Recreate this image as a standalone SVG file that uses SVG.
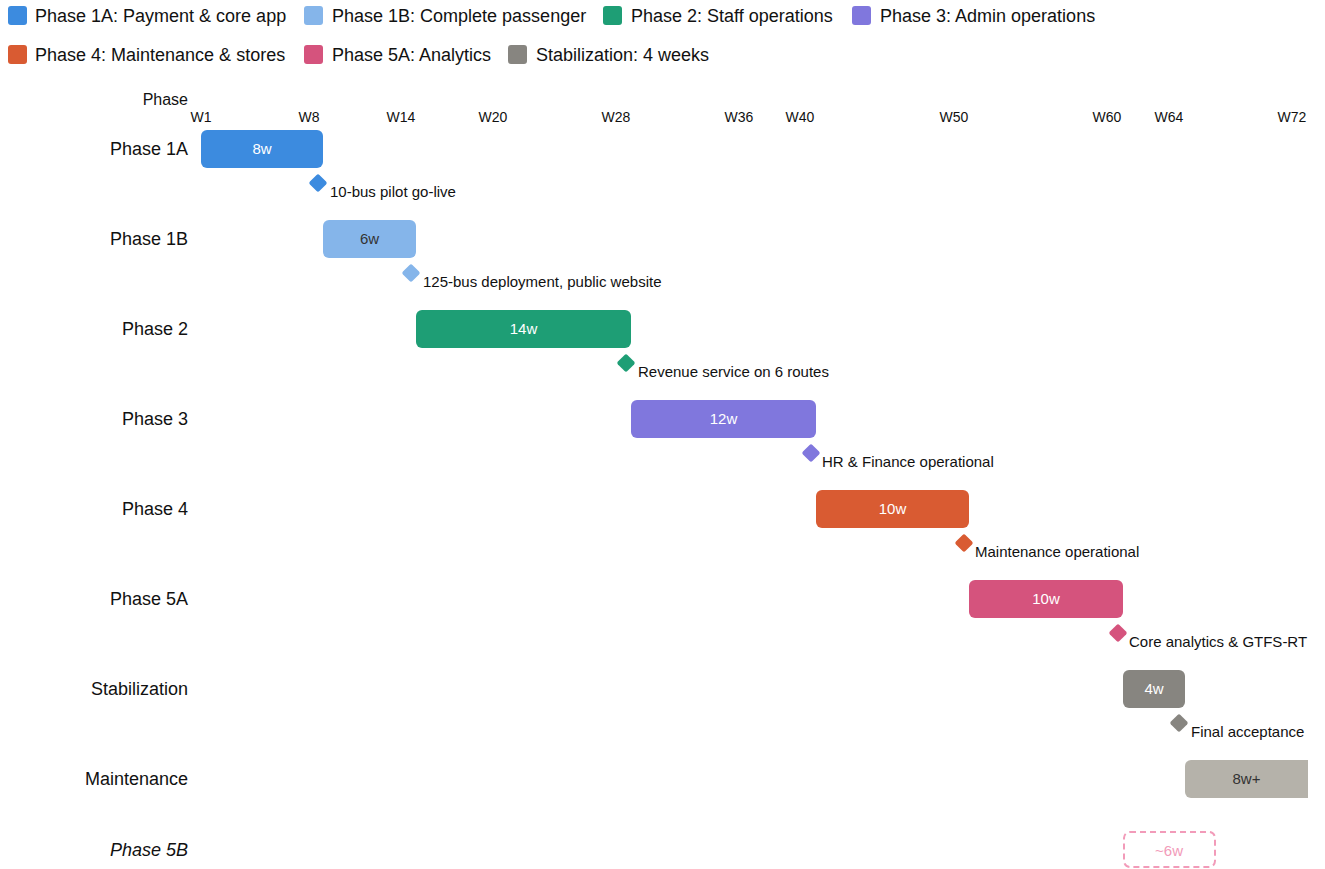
<svg xmlns="http://www.w3.org/2000/svg" width="1325" height="869" viewBox="0 0 1325 869">
<style>
text{font-family:"Liberation Sans",Arial,sans-serif;}
.lg{font-size:18px;fill:#111;}
.rl{font-size:18px;fill:#111;text-anchor:end;}
.tk{font-size:14px;fill:#111;text-anchor:middle;}
.bl{font-size:15px;fill:#fff;text-anchor:middle;}
.bd{font-size:15px;fill:#333;text-anchor:middle;}
.ms{font-size:15px;fill:#111;}
</style>
<defs>
<clipPath id="plot"><rect x="0" y="0" width="1308" height="869"/></clipPath>
<rect id="dia" x="-6.7" y="-6.7" width="13.4" height="13.4" rx="2" transform="rotate(45)"/>
</defs>
<rect width="1325" height="869" fill="#fff"/>
<g id="legend">
<rect x="8" y="6" width="19" height="19" rx="3" fill="#3C8BDF"/><text class="lg" x="35" y="22">Phase 1A: Payment &amp; core app</text>
<rect x="304" y="6" width="19" height="19" rx="3" fill="#85B5EA"/><text class="lg" x="332" y="22">Phase 1B: Complete passenger</text>
<rect x="603" y="6" width="19" height="19" rx="3" fill="#1E9E75"/><text class="lg" x="631" y="22">Phase 2: Staff operations</text>
<rect x="852" y="6" width="19" height="19" rx="3" fill="#8077DD"/><text class="lg" x="880" y="22">Phase 3: Admin operations</text>
<rect x="8" y="45" width="19" height="19" rx="3" fill="#D95B32"/><text class="lg" x="35" y="61">Phase 4: Maintenance &amp; stores</text>
<rect x="304" y="45" width="19" height="19" rx="3" fill="#D5537D"/><text class="lg" x="332" y="61">Phase 5A: Analytics</text>
<rect x="508" y="45" width="19" height="19" rx="3" fill="#878580"/><text class="lg" x="536" y="61">Stabilization: 4 weeks</text>
</g>
<g id="axis">
<text class="rl" x="188" y="105" style="font-size:16px">Phase</text>
<text class="tk" x="201" y="122">W1</text>
<text class="tk" x="309" y="122">W8</text>
<text class="tk" x="401" y="122">W14</text>
<text class="tk" x="493" y="122">W20</text>
<text class="tk" x="616" y="122">W28</text>
<text class="tk" x="739" y="122">W36</text>
<text class="tk" x="800" y="122">W40</text>
<text class="tk" x="954" y="122">W50</text>
<text class="tk" x="1107" y="122">W60</text>
<text class="tk" x="1169" y="122">W64</text>
<text class="tk" x="1292" y="122">W72</text>
</g>
<g id="connectors"></g>
<g id="phase-1a">
<text class="rl" x="188" y="155">Phase 1A</text>
<rect x="201" y="130" width="122" height="38" rx="6" fill="#3C8BDF"/>
<text class="bl" x="262" y="154">8w</text>
<use href="#dia" x="318" y="183" fill="#3C8BDF"/>
<text class="ms" x="330" y="197">10-bus pilot go-live</text>
</g>
<g id="phase-1b">
<text class="rl" x="188" y="245">Phase 1B</text>
<rect x="323" y="220" width="93" height="38" rx="6" fill="#85B5EA"/>
<text class="bd" x="369.5" y="244">6w</text>
<use href="#dia" x="411" y="273" fill="#85B5EA"/>
<text class="ms" x="423" y="287">125-bus deployment, public website</text>
</g>
<g id="phase-2">
<text class="rl" x="188" y="335">Phase 2</text>
<rect x="416" y="310" width="215" height="38" rx="6" fill="#1E9E75"/>
<text class="bl" x="523.5" y="334">14w</text>
<use href="#dia" x="626" y="363" fill="#1E9E75"/>
<text class="ms" x="638" y="377">Revenue service on 6 routes</text>
</g>
<g id="phase-3">
<text class="rl" x="188" y="425">Phase 3</text>
<rect x="631" y="400" width="185" height="38" rx="6" fill="#8077DD"/>
<text class="bl" x="723.5" y="424">12w</text>
<use href="#dia" x="811" y="453" fill="#8077DD"/>
<text class="ms" x="822" y="467">HR &amp; Finance operational</text>
</g>
<g id="phase-4">
<text class="rl" x="188" y="515">Phase 4</text>
<rect x="816" y="490" width="153" height="38" rx="6" fill="#D95B32"/>
<text class="bl" x="892.5" y="514">10w</text>
<use href="#dia" x="964" y="543" fill="#D95B32"/>
<text class="ms" x="975" y="557">Maintenance operational</text>
</g>
<g id="phase-5a">
<text class="rl" x="188" y="605">Phase 5A</text>
<rect x="969" y="580" width="154" height="38" rx="6" fill="#D5537D"/>
<text class="bl" x="1046" y="604">10w</text>
<use href="#dia" x="1118" y="633" fill="#D5537D"/>
<text class="ms" x="1129" y="647">Core analytics &amp; GTFS-RT</text>
</g>
<g id="stabilization">
<text class="rl" x="188" y="695">Stabilization</text>
<rect x="1123" y="670" width="62" height="38" rx="6" fill="#878580"/>
<text class="bl" x="1154" y="694">4w</text>
<use href="#dia" x="1179" y="723" fill="#878580"/>
<text class="ms" x="1191" y="737">Final acceptance</text>
</g>
<g id="maintenance">
<text class="rl" x="188" y="785">Maintenance</text>
<rect x="1185" y="760" width="140" height="38" rx="6" fill="#B5B2AA" clip-path="url(#plot)"/>
<text class="bd" x="1246.5" y="784">8w+</text>
</g>
<g id="phase-5b">
<text class="rl" x="188" y="856" font-style="italic">Phase 5B</text>
<rect x="1124" y="832" width="91" height="35" rx="6" fill="#fff" stroke="#F29BB9" stroke-width="2" stroke-dasharray="6 4"/>
<text class="bd" x="1169" y="856" style="fill:#F29BB9">~6w</text>
</g>
</svg>
